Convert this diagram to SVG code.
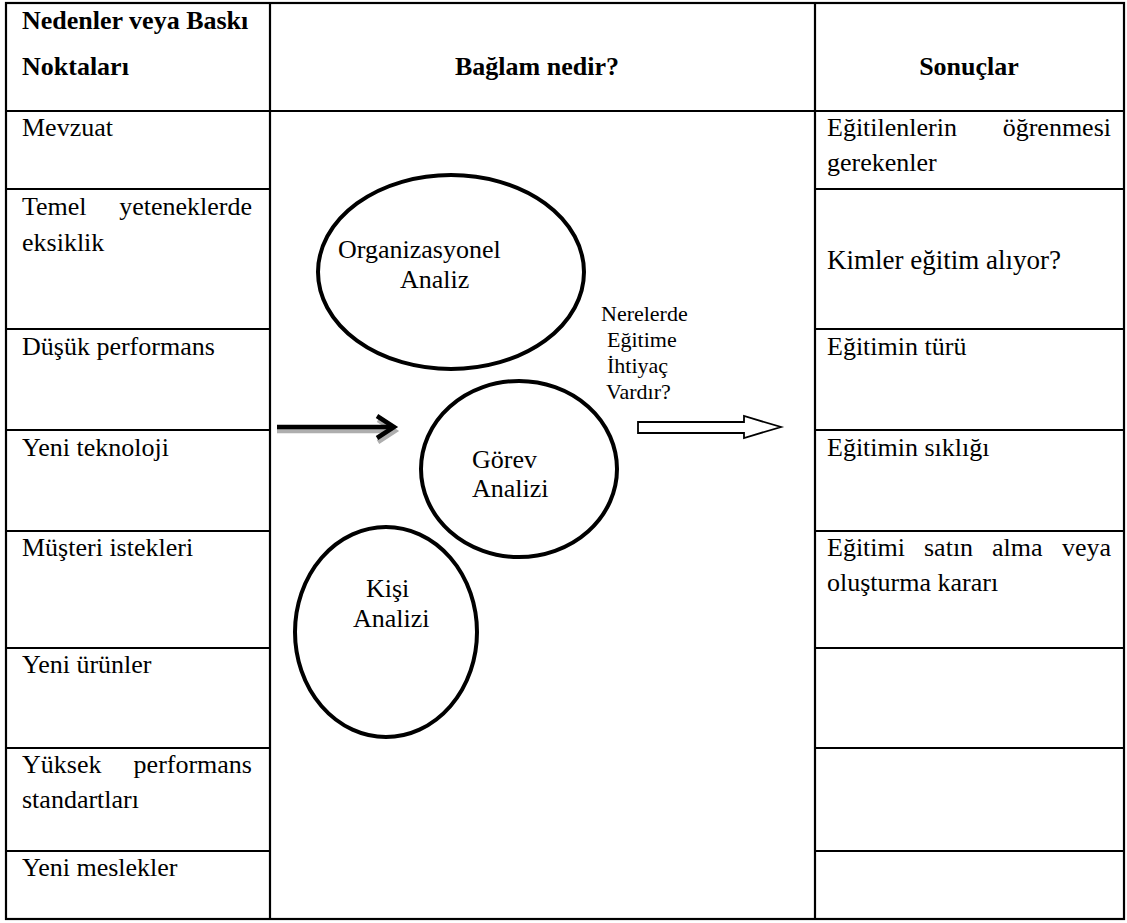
<svg xmlns="http://www.w3.org/2000/svg" width="1127" height="923" viewBox="0 0 1127 923">
<style>
  text { font-family: "Liberation Serif", Tinos, "Times New Roman", "DejaVu Serif", serif; font-size: 26px; fill: #000; }
  .b { font-weight: bold; }
  .s { font-size: 22px; }
  .k { font-size: 27px; }
  .grid { stroke: #000; stroke-width: 2.2; fill: none; }
  .ell { fill: #fff; stroke: #000; stroke-width: 4; }
</style>
<rect width="1127" height="923" fill="#fff"/>
<g id="table">
  <rect class="grid" x="6" y="3" width="1118" height="916" stroke-width="3"/>
  <line class="grid" x1="270" y1="3" x2="270" y2="919"/>
  <line class="grid" x1="815" y1="3" x2="815" y2="919"/>
  <line class="grid" x1="6" y1="111" x2="1124" y2="111"/>
  <g>
    <line class="grid" x1="6" y1="189" x2="270" y2="189"/>
    <line class="grid" x1="6" y1="329" x2="270" y2="329"/>
    <line class="grid" x1="6" y1="430" x2="270" y2="430"/>
    <line class="grid" x1="6" y1="531" x2="270" y2="531"/>
    <line class="grid" x1="6" y1="648" x2="270" y2="648"/>
    <line class="grid" x1="6" y1="748" x2="270" y2="748"/>
    <line class="grid" x1="6" y1="851" x2="270" y2="851"/>
    <line class="grid" x1="815" y1="189" x2="1124" y2="189"/>
    <line class="grid" x1="815" y1="329" x2="1124" y2="329"/>
    <line class="grid" x1="815" y1="430" x2="1124" y2="430"/>
    <line class="grid" x1="815" y1="531" x2="1124" y2="531"/>
    <line class="grid" x1="815" y1="648" x2="1124" y2="648"/>
    <line class="grid" x1="815" y1="748" x2="1124" y2="748"/>
    <line class="grid" x1="815" y1="851" x2="1124" y2="851"/>
  </g>
</g>
<g id="headers">
  <text class="b" x="22" y="29">Nedenler veya Baskı</text>
  <text class="b" x="22" y="75">Noktaları</text>
  <text class="b" x="537" y="75" text-anchor="middle">Bağlam nedir?</text>
  <text class="b" x="969" y="75" text-anchor="middle">Sonuçlar</text>
</g>
<g id="causes">
  <text x="22" y="136">Mevzuat</text>
  <text x="22" y="215">Temel</text>
  <text x="252" y="215" text-anchor="end">yeteneklerde</text>
  <text x="22" y="251">eksiklik</text>
  <text x="22" y="355">Düşük performans</text>
  <text x="22" y="456">Yeni teknoloji</text>
  <text x="22" y="556">Müşteri istekleri</text>
  <text x="22" y="673">Yeni ürünler</text>
  <text x="22" y="773">Yüksek</text>
  <text x="252" y="773" text-anchor="end">performans</text>
  <text x="22" y="808">standartları</text>
  <text x="22" y="876">Yeni meslekler</text>
</g>
<g id="results">
  <text x="827" y="136">Eğitilenlerin</text>
  <text x="1111" y="136" text-anchor="end">öğrenmesi</text>
  <text x="827" y="171">gerekenler</text>
  <text class="k" x="827" y="269">Kimler eğitim alıyor?</text>
  <text x="827" y="355">Eğitimin türü</text>
  <text x="827" y="456">Eğitimin sıklığı</text>
  <text x="827" y="556">Eğitimi</text>
  <text x="924" y="556">satın</text>
  <text x="992" y="556">alma</text>
  <text x="1111" y="556" text-anchor="end">veya</text>
  <text x="827" y="591">oluşturma kararı</text>
</g>
<g id="org-analysis">
  <ellipse class="ell" cx="451" cy="272" rx="133" ry="97"/>
  <text x="338" y="258">Organizasyonel</text>
  <text x="400" y="288">Analiz</text>
</g>
<g id="task-analysis">
  <ellipse class="ell" cx="519" cy="469" rx="98" ry="88"/>
  <text x="472" y="468">Görev</text>
  <text x="472" y="497">Analizi</text>
</g>
<g id="person-analysis">
  <ellipse class="ell" cx="386" cy="632" rx="91" ry="105"/>
  <text x="366" y="597">Kişi</text>
  <text x="353" y="627">Analizi</text>
</g>
<g id="question">
  <text class="s" x="601" y="321">Nerelerde</text>
  <text class="s" x="607" y="347">Eğitime</text>
  <text class="s" x="607" y="373">İhtiyaç</text>
  <text class="s" x="606" y="399">Vardır?</text>
</g>
<g id="connectors">
  <g fill="none" stroke="#9a9a9a" stroke-width="4.5" opacity="0.8">
    <line x1="277" y1="431" x2="390" y2="431"/>
    <path d="M378,420 L395,431 L378,442"/>
  </g>
  <g fill="none" stroke="#000" stroke-width="4.5">
    <line x1="277" y1="427" x2="390" y2="427"/>
    <path d="M377,416 L394,427 L377,438"/>
  </g>
  <polygon points="638,422 744,422 744,416 781,427 744,438 744,433 638,433" fill="#fff" stroke="#000" stroke-width="1.8"/>
</g>
</svg>
